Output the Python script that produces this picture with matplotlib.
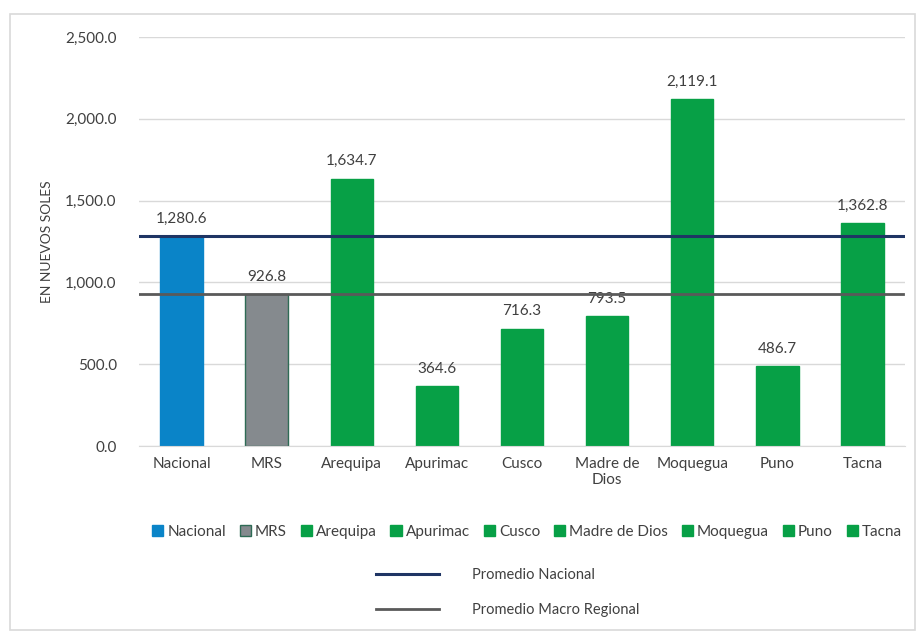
import matplotlib
matplotlib.use('Agg')
import matplotlib.pyplot as plt
from matplotlib.lines import Line2D
from matplotlib.patches import Patch, Rectangle
import numpy as np

plt.rcParams['font.family'] = ['Lato', 'DejaVu Sans']

categories = ['Nacional', 'MRS', 'Arequipa', 'Apurimac', 'Cusco', 'Madre de Dios', 'Moquegua', 'Puno', 'Tacna']
tick_labels = ['Nacional', 'MRS', 'Arequipa', 'Apurimac', 'Cusco', 'Madre de\nDios', 'Moquegua', 'Puno', 'Tacna']
values = [1280.6, 926.8, 1634.7, 364.6, 716.3, 793.5, 2119.1, 486.7, 1362.8]
promedio_nacional = 1280.6
promedio_macro = 926.8

blue = '#0A84C8'
grey = '#858A8E'
green = '#07A046'
colors = [blue, grey] + [green] * 7
edges = [blue, '#2E6B55'] + [green] * 7

fig = plt.figure(figsize=(9.18, 6.37), dpi=100)
fig.patches.append(Rectangle((10 / 918, 1 - 630 / 637), 905 / 918, 616 / 637,
                             transform=fig.transFigure, fill=False, edgecolor='#D9D9D9', lw=1.2))
ax = fig.add_axes([139 / 918, 1 - 446 / 637, 766 / 918, 409 / 637])

x = np.arange(len(categories))
bars = ax.bar(x, values, width=0.5, color=colors, edgecolor=edges, linewidth=1, zorder=2)
ax.set_xlim(-0.5, len(categories) - 0.5)
ax.set_ylim(0, 2500)
ax.set_yticks(np.arange(0, 2501, 500))
ax.set_yticklabels(['{:,.1f}'.format(v) for v in np.arange(0, 2501, 500)])
ax.set_xticks(x)
ax.set_xticklabels(tick_labels)
ax.grid(axis='y', color='#D9D9D9', lw=1, zorder=0)
for s in ['top', 'right', 'left']:
    ax.spines[s].set_visible(False)
ax.spines['bottom'].set_color('#D9D9D9')
ax.tick_params(length=0, colors='#404040', labelsize=11)
ax.tick_params(axis='y', pad=16)
ax.tick_params(axis='x', pad=8)
ax.set_ylabel('EN NUEVOS SOLES', fontsize=10, color='#404040', labelpad=9)

for xi, v in zip(x, values):
    ax.text(xi, v + 65, '{:,.1f}'.format(v), ha='center', va='bottom', fontsize=11, color='#404040')

ax.axhline(promedio_nacional, xmin=0, xmax=0.997, color='#1F3564', lw=2.2, zorder=3)
ax.axhline(promedio_macro, xmin=0, xmax=0.997, color='#5A5A5A', lw=2.0, zorder=3)

handles = [Patch(facecolor=c, edgecolor=e) for c, e in zip(colors, edges)]
leg1 = fig.legend(handles, categories, loc='center', bbox_to_anchor=(527 / 918, 1 - 532 / 637), ncol=9,
                  frameon=False, fontsize=11, handlelength=0.75, handleheight=0.75, handletextpad=0.25,
                  columnspacing=0.9, labelcolor='#404040')
line_handles = [Line2D([], [], color='#1F3564', lw=2.2), Line2D([], [], color='#5A5A5A', lw=2.0)]
leg2 = fig.legend(line_handles, ['Promedio Nacional', 'Promedio Macro Regional'], loc='upper left',
                  bbox_to_anchor=(363 / 918, 1 - 555 / 637), ncol=1, frameon=False, fontsize=10.5,
                  handlelength=4.3, handletextpad=2.3, labelspacing=1.45, labelcolor='#404040')

fig.savefig('out.png', dpi=100)
